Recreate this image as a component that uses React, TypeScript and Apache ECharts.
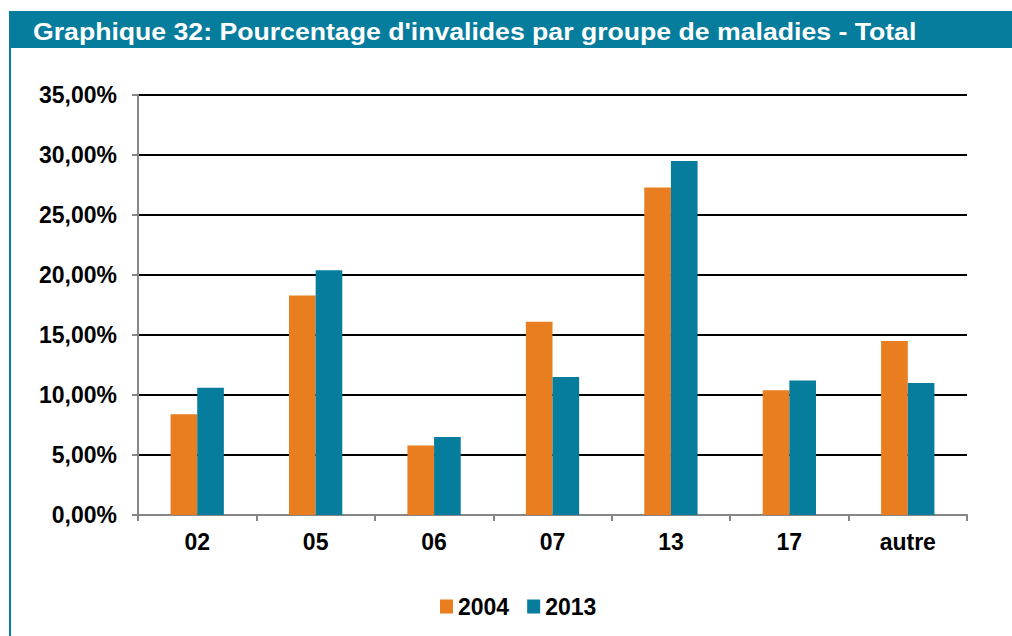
import React, { useEffect, useRef } from "react";
import * as echarts from "echarts";

const titleText = "Graphique 32: Pourcentage d'invalides par groupe de maladies - Total";
const categories = ["02", "05", "06", "07", "13", "17", "autre"];
const seriesNames = ["2004", "2013"];
const values2004 = [8.4, 18.3, 5.8, 16.1, 27.3, 10.4, 14.5];
const values2013 = [10.6, 20.4, 6.5, 11.5, 29.5, 11.2, 11.0];

const ORANGE = "#E87E1F";
const TEAL = "#067D9D";
const FONT = "'Liberation Sans', Arial, sans-serif";

export default function App() {
  const ref = useRef<HTMLDivElement>(null);
  useEffect(() => {
    if (!ref.current) return;
    const chart = echarts.init(ref.current, null, { renderer: "svg" });
    chart.setOption({
      animation: false,
      backgroundColor: "#ffffff",
      textStyle: { fontFamily: FONT },
      graphic: [
        { type: "rect", shape: { x: 9, y: 11, width: 2, height: 625 }, style: { fill: TEAL } },
        { type: "rect", shape: { x: 11, y: 11, width: 1001, height: 37 }, style: { fill: TEAL } },
        {
          type: "text",
          x: 33,
          y: 31,
          scaleX: 1.11,
          style: {
            text: titleText,
            fill: "#ffffff",
            font: `bold 24px ${FONT}`,
            verticalAlign: "middle",
            align: "left",
          },
        },
      ],
      legend: {
        left: 440,
        top: 595,
        padding: 0,
        icon: "rect",
        itemWidth: 13,
        itemHeight: 14,
        itemGap: 18,
        textStyle: { fontSize: 23, fontWeight: "bold", color: "#000", fontFamily: FONT },
        data: seriesNames,
      },
      grid: { left: 138, right: 45, top: 95, bottom: 121, containLabel: false },
      xAxis: {
        type: "category",
        data: categories,
        axisLine: { lineStyle: { color: "#868686", width: 2 } },
        axisTick: { show: true, length: 6, lineStyle: { color: "#868686", width: 2 } },
        axisLabel: { color: "#000", fontSize: 23, fontWeight: "bold", margin: 15, fontFamily: FONT },
      },
      yAxis: {
        type: "value",
        min: 0,
        max: 35,
        interval: 5,
        axisLine: { show: true, lineStyle: { color: "#868686", width: 2 } },
        axisTick: { show: true, length: 6, lineStyle: { color: "#868686", width: 2 } },
        splitLine: { lineStyle: { color: "#000", width: 2 } },
        axisLabel: {
          color: "#000",
          fontSize: 23,
          fontWeight: "bold",
          margin: 21,
          fontFamily: FONT,
          formatter: (v: number) => v.toFixed(2).replace(".", ",") + "%",
        },
      },
      series: [
        {
          name: seriesNames[0],
          type: "bar",
          data: values2004,
          itemStyle: { color: ORANGE },
          barGap: "0%",
          barCategoryGap: "55%",
        },
        {
          name: seriesNames[1],
          type: "bar",
          data: values2013,
          itemStyle: { color: TEAL },
          barGap: "0%",
          barCategoryGap: "55%",
        },
      ],
    });
    return () => chart.dispose();
  }, []);
  return (
    <div
      ref={ref}
      style={{ position: "absolute", left: 0, top: 0, width: 1012, height: 636 }}
    />
  );
}
